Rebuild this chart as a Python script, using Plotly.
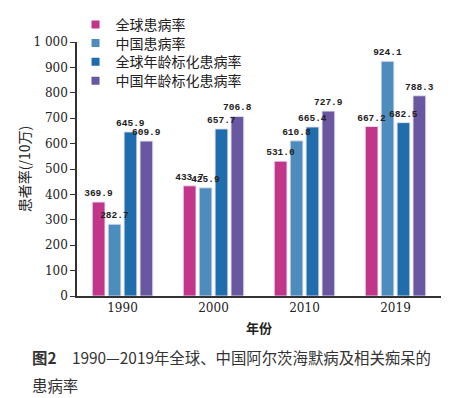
import plotly.graph_objects as go

years = ["1990", "2000", "2010", "2019"]
series_names = ["全球患病率", "中国患病率", "全球年龄标化患病率", "中国年龄标化患病率"]
global_rate = [369.9, 433.7, 531.0, 667.2]
china_rate = [282.7, 425.9, 610.8, 924.1]
global_std = [645.9, 657.7, 665.4, 682.5]
china_std = [609.9, 706.8, 727.9, 788.3]
colors = ["#C2368A", "#4D8DBE", "#1F6DAC", "#6958A0"]
ytick_vals = [0, 100, 200, 300, 400, 500, 600, 700, 800, 900, 1000]
ytick_text = ["0", "100", "200", "300", "400", "500", "600", "700", "800", "900", "1 000"]

all_series = [global_rate, china_rate, global_std, china_std]

fig = go.Figure()
for i, (name, vals, col) in enumerate(zip(series_names, all_series, colors)):
    fig.add_trace(go.Bar(
        x=years, y=vals, name=name, offsetgroup=f"g{i}", showlegend=False,
        marker=dict(color=col, line=dict(color="rgba(230,225,245,0.9)", width=1)),
    ))
# transparent duplicates carrying the value labels, drawn on top
for i, vals in enumerate(all_series):
    fig.add_trace(go.Bar(
        x=years, y=vals, offsetgroup=f"g{i}", showlegend=False, hoverinfo="skip",
        marker=dict(color="rgba(0,0,0,0)", line=dict(width=0)),
        text=[f"<b>{v:.1f}</b>" for v in vals], textposition="outside",
        constraintext="none",
        textfont=dict(family="Liberation Mono", size=9.5, color="#222"),
        cliponaxis=False,
    ))
# legend entries with small square keys, one legend box per row
legend_ids = ["legend", "legend2", "legend3", "legend4"]
for name, col, lid in zip(series_names, colors, legend_ids):
    fig.add_trace(go.Scatter(
        x=[None], y=[None], mode="markers", name=name, legend=lid,
        marker=dict(symbol="square", size=8, color=col),
    ))

legend_rows_y = [1.067, 0.994, 0.921, 0.846]
legend_style = dict(x=-0.004, xanchor="left", yanchor="middle",
                    font=dict(family="Noto Sans CJK SC", size=14, color="#222"),
                    bgcolor="rgba(0,0,0,0)", itemwidth=30, tracegroupgap=0)

fig.update_layout(
    width=469, height=398,
    margin=dict(l=69, r=36, t=34, b=110, autoexpand=False),
    paper_bgcolor="white", plot_bgcolor="white",
    barmode="group", bargap=0.3, bargroupgap=0.2,
    font=dict(family="DejaVu Serif", color="#222"),
    showlegend=True,
    xaxis=dict(showline=True, linecolor="#333", linewidth=1.5, ticks="", automargin=False,
               tickfont=dict(family="DejaVu Serif", size=12, color="#222"),
               title=dict(text="<b>年份</b>", font=dict(family="Noto Sans CJK SC", size=13, color="#222"), standoff=10)),
    yaxis=dict(range=[0, 1000], showline=True, linecolor="#333", linewidth=1.5, automargin=False,
               ticks="outside", ticklen=5, tickcolor="#333", showgrid=False, zeroline=False,
               tickvals=ytick_vals, ticktext=ytick_text,
               tickfont=dict(family="DejaVu Serif", size=12, color="#222"),
               title=dict(text="患者率(/10万)", font=dict(family="Noto Sans CJK SC", size=14, color="#222"), standoff=0)),
)
for lid, ly in zip(legend_ids, legend_rows_y):
    fig.update_layout({lid: dict(y=ly, **legend_style)})

fig.add_annotation(xref="paper", yref="paper", x=-0.129, y=-0.24, xanchor="left", yanchor="middle",
                   text="<b>图2</b>　1990—2019年全球、中国阿尔茨海默病及相关痴呆的", showarrow=False,
                   font=dict(family="Noto Sans CJK SC", size=15.4, color="#333"))
fig.add_annotation(xref="paper", yref="paper", x=-0.129, y=-0.35, xanchor="left", yanchor="middle",
                   text="患病率", showarrow=False,
                   font=dict(family="Noto Sans CJK SC", size=15.4, color="#333"))

fig.write_html("out.html")
